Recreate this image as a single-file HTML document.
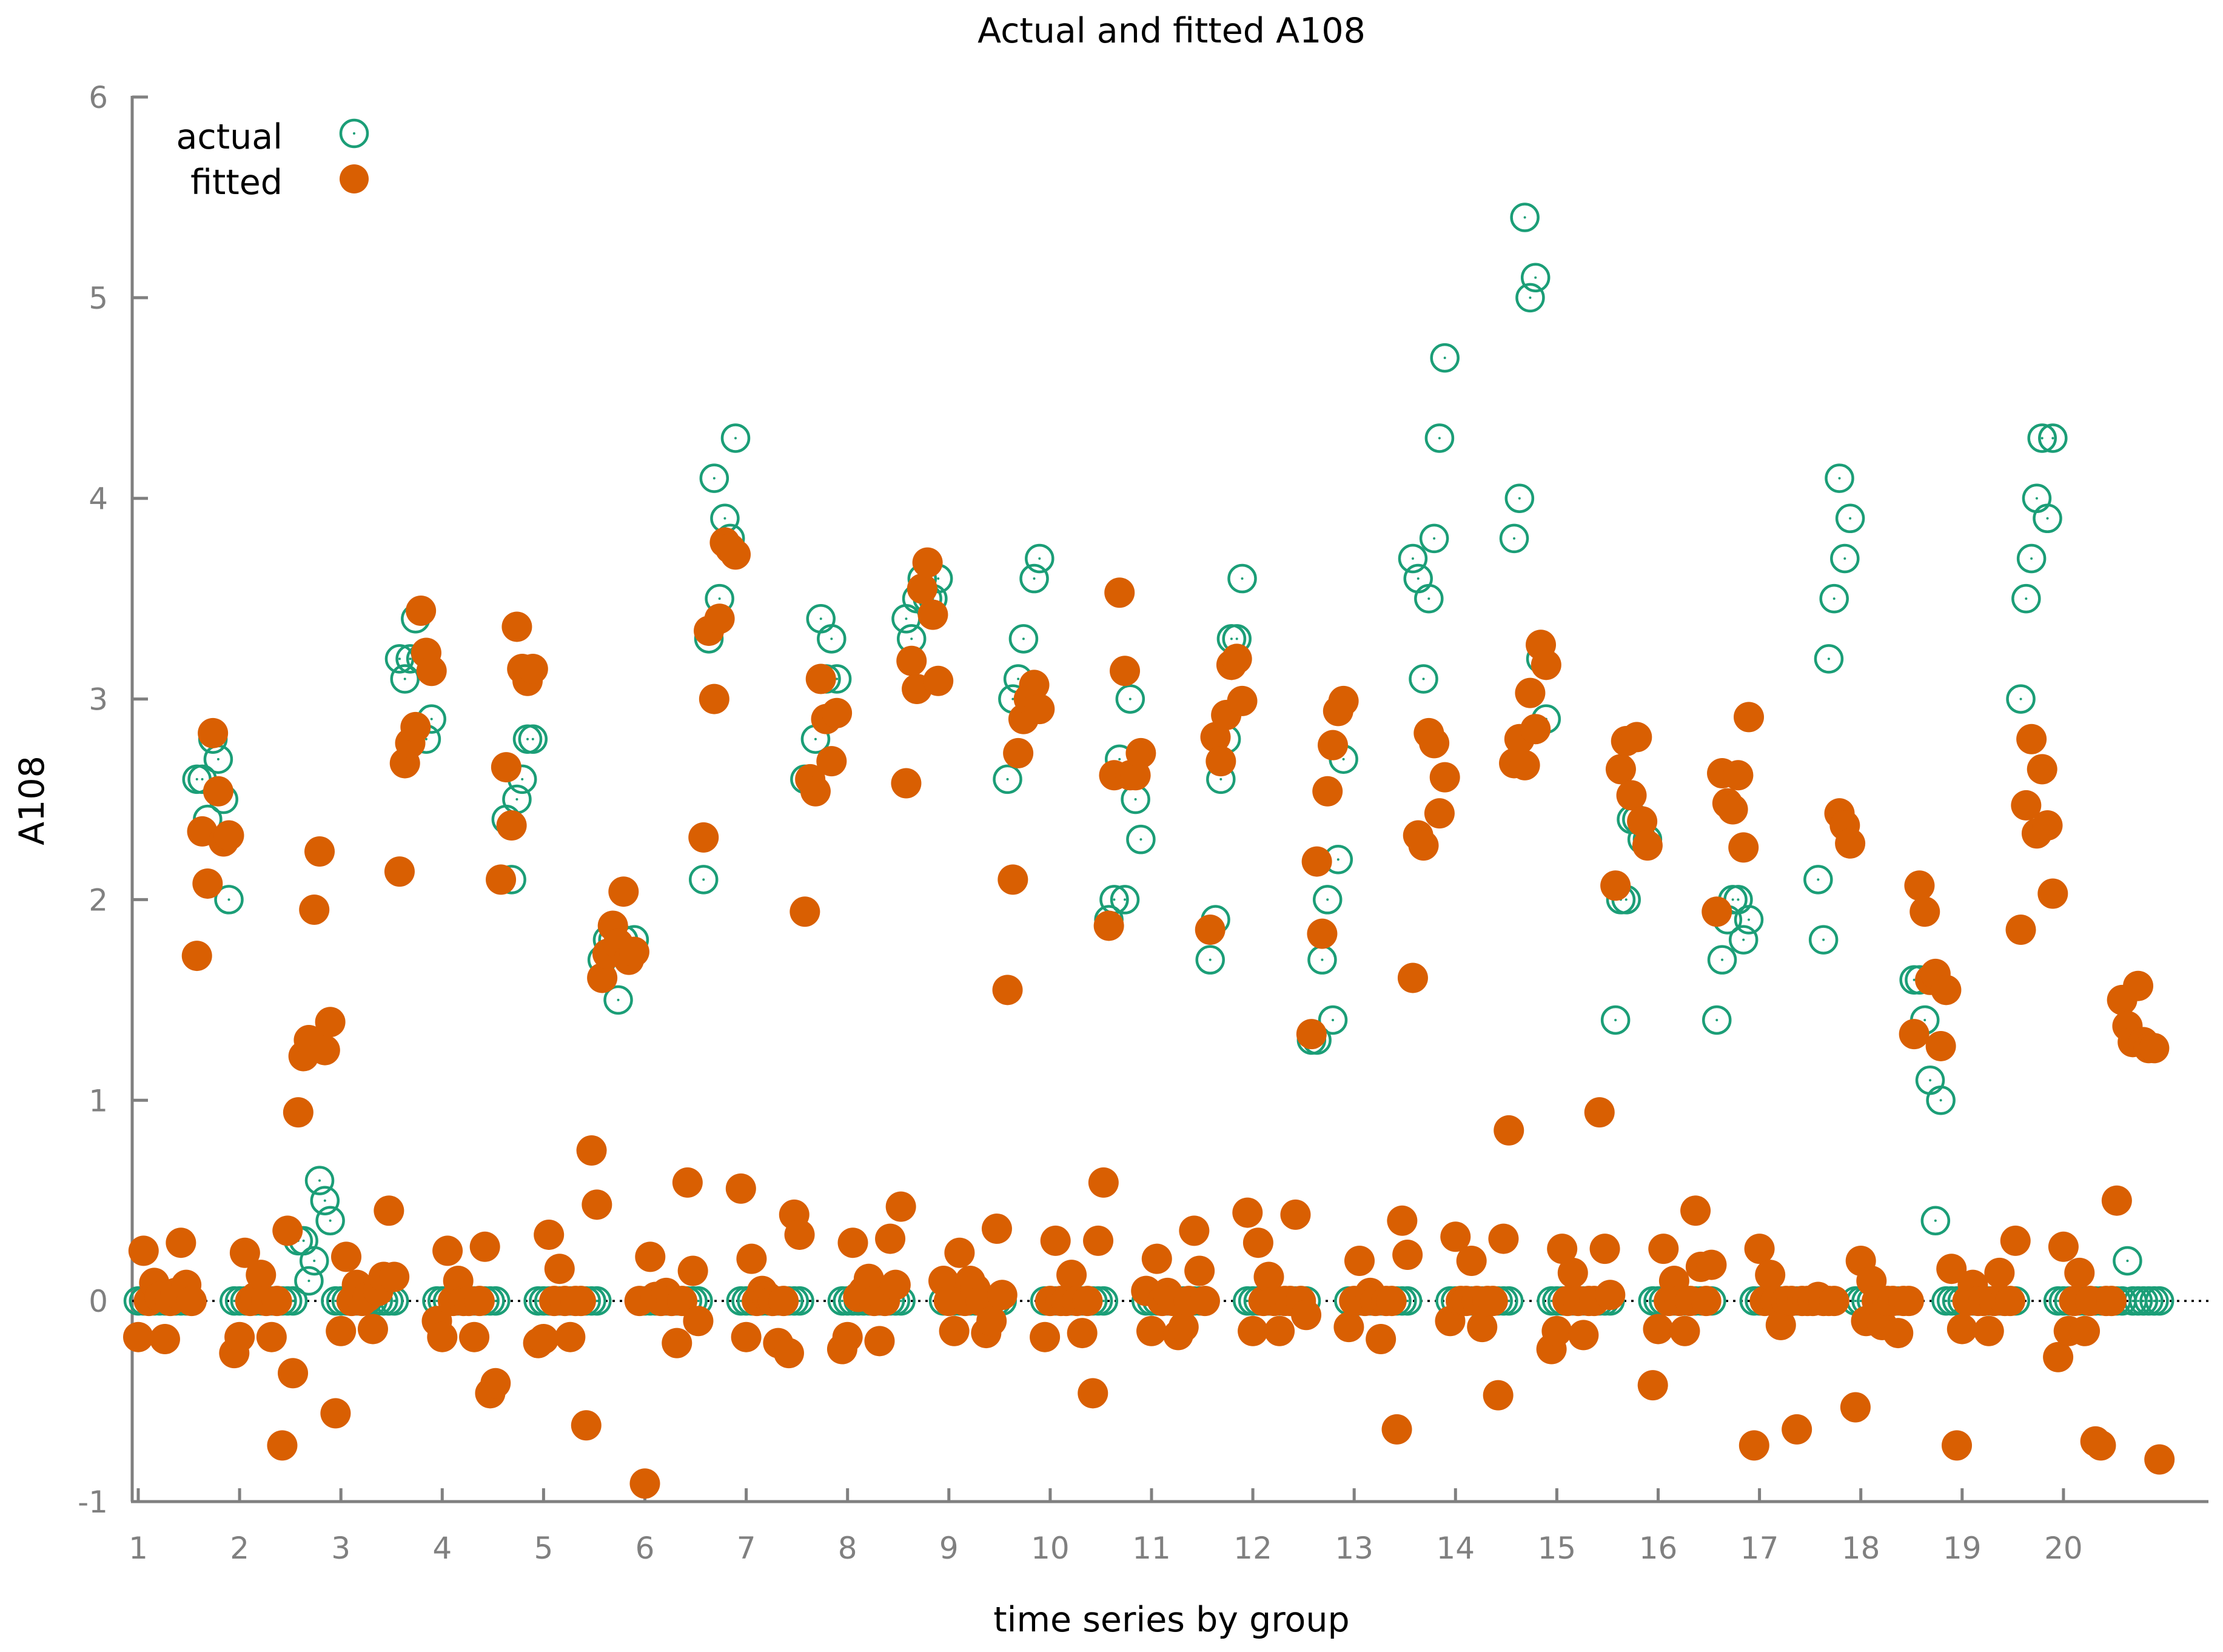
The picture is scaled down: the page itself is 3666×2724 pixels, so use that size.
<!DOCTYPE html>
<html><head><meta charset="utf-8"><style>
html,body{margin:0;padding:0;background:#fff}
svg{display:block}
text{font-family:"DejaVu Sans","Liberation Sans",sans-serif}
</style></head><body>
<svg id="chart" width="3666" height="2724" viewBox="0 0 3666 2724" xmlns="http://www.w3.org/2000/svg">
<rect width="3666" height="2724" fill="#fff"/>
<text x="1932" y="70" font-size="57" text-anchor="middle" fill="#000">Actual and fitted A108</text>
<text x="0" y="0" font-size="57" text-anchor="middle" fill="#000" transform="translate(72,1320) rotate(-90)">A108</text>
<text x="1932" y="2690" font-size="57" text-anchor="middle" fill="#000">time series by group</text>
<g id="grid"></g>
<g id="marks"></g>
<g id="legend">
<text x="466" y="245" font-size="57" text-anchor="end" fill="#000">actual</text>
<circle cx="584" cy="220" r="22" fill="none" stroke="#1b9e77" stroke-width="4.5"/>
<circle cx="584" cy="220" r="2" fill="#1b9e77"/>
<text x="466" y="320" font-size="57" text-anchor="end" fill="#000">fitted</text>
<circle cx="584" cy="295" r="24" fill="#d95f02"/>
</g>
</svg>
<script>
const xTicks=[1,2,3,4,5,6,7,8,9,10,11,12,13,14,15,16,17,18,19,20];
const yTicks=[-1,0,1,2,3,4,5,6];
const obsPerGroup=19;
const actual=[
0,0,0,0,0,0,0,0,0,0,0,2.6,2.6,2.4,2.8,2.7,2.5,2.0,0,
0,0,0,0,0,0,0,0,0,0,0,0.3,0.3,0.1,0.2,0.6,0.5,0.4,0,
0,0,0,0,0,0,0,0,0,0,0,3.2,3.1,3.2,3.4,3.2,2.8,2.9,0,
0,0,0,0,0,0,0,0,0,0,0,2.1,2.4,2.1,2.5,2.6,2.8,2.8,0,
0,0,0,0,0,0,0,0,0,0,0,1.7,1.8,1.8,1.5,1.8,1.7,1.8,0,
0,0,0,0,0,0,0,0,0,0,0,2.1,3.3,4.1,3.5,3.9,3.8,4.3,0,
0,0,0,0,0,0,0,0,0,0,0,2.6,2.6,2.8,3.4,3.1,3.3,3.1,0,
0,0,0,0,0,0,0,0,0,0,0,3.4,3.3,3.5,3.6,3.5,3.5,3.6,0,
0,0,0,0,0,0,0,0,0,0,0,2.6,3.0,3.1,3.3,3.0,3.6,3.7,0,
0,0,0,0,0,0,0,0,0,0,0,1.9,2.0,2.7,2.0,3.0,2.5,2.3,0,
0,0,0,0,0,0,0,0,0,0,0,1.7,1.9,2.6,2.8,3.3,3.3,3.6,0,
0,0,0,0,0,0,0,0,0,0,0,1.3,1.3,1.7,2.0,1.4,2.2,2.7,0,
0,0,0,0,0,0,0,0,0,0,0,3.7,3.6,3.1,3.5,3.8,4.3,4.7,0,
0,0,0,0,0,0,0,0,0,0,0,3.8,4.0,5.4,5.0,5.1,3.2,2.9,0,
0,0,0,0,0,0,0,0,0,0,0,1.4,2.0,2.0,2.4,2.4,2.3,2.3,0,
0,0,0,0,0,0,0,0,0,0,0,1.4,1.7,1.9,2.0,2.0,1.8,1.9,0,
0,0,0,0,0,0,0,0,0,0,0,2.1,1.8,3.2,3.5,4.1,3.7,3.9,0,
0,0,0,0,0,0,0,0,0,0,1.6,1.6,1.4,1.1,0.4,1.0,0,0,0,
0,0,0,0,0,0,0,0,0,0,0,3.0,3.5,3.7,4.0,4.3,3.9,4.3,0,
0,0,0,0,0,0,0,0,0,0,0,0,0.2,0,0,0,0,0,0
];
const fitted=[
-0.18,0.25,0.0,0.09,0.02,-0.19,0.0,0.04,0.29,0.08,0.0,1.72,2.34,2.08,2.83,2.54,2.29,2.32,-0.26,
-0.18,0.24,0.0,0.02,0.13,0.0,-0.18,0.0,-0.72,0.35,-0.36,0.94,1.22,1.3,1.95,2.24,1.25,1.39,-0.56,
-0.15,0.22,0.0,0.08,0.0,0.02,-0.14,0.05,0.12,0.45,0.12,2.14,2.68,2.78,2.86,3.44,3.23,3.14,-0.1,
-0.18,0.25,0.0,0.1,0.0,0.0,-0.18,0.0,0.27,-0.46,-0.41,2.1,2.66,2.37,3.36,3.15,3.09,3.15,-0.21,
-0.19,0.33,0.0,0.16,0.0,-0.18,0.0,0.0,-0.62,0.75,0.48,1.61,1.73,1.87,1.78,2.04,1.70,1.74,0.0,
-0.91,0.22,0.02,0.0,0.04,0.0,-0.21,0.0,0.59,0.15,-0.1,2.31,3.34,3.0,3.4,3.78,3.75,3.72,0.56,
-0.18,0.21,0.0,0.05,0.02,0.0,-0.21,0.0,-0.26,0.43,0.33,1.94,2.6,2.54,3.1,2.9,2.69,2.93,-0.24,
-0.18,0.29,0.02,0.05,0.11,0.0,-0.2,0.0,0.31,0.08,0.47,2.58,3.19,3.05,3.55,3.68,3.42,3.09,0.1,
0.0,-0.15,0.24,0.0,0.1,0.06,0.0,-0.16,-0.1,0.36,0.03,1.55,2.1,2.73,2.9,3.0,3.07,2.95,-0.18,
0.0,0.3,0.0,0.0,0.13,0.0,-0.16,0.0,-0.46,0.3,0.59,1.87,2.62,3.53,3.14,2.62,2.62,2.73,0.05,
-0.15,0.21,0.0,0.04,0.0,-0.17,-0.13,0.0,0.35,0.15,0.0,1.85,2.81,2.69,2.92,3.17,3.2,2.99,0.44,
-0.15,0.29,0.0,0.12,0.0,-0.15,0.0,0.0,0.43,0.0,-0.07,1.33,2.19,1.83,2.54,2.77,2.94,2.99,-0.13,
0.0,0.2,0.0,0.04,0.0,-0.19,0.0,0.0,-0.64,0.4,0.23,1.61,2.32,2.27,2.83,2.78,2.43,2.61,-0.1,
0.32,0.0,0.0,0.2,0.0,-0.13,0.0,0.0,-0.47,0.31,0.85,2.68,2.8,2.67,3.03,2.85,3.27,3.17,-0.24,
-0.15,0.26,0.0,0.14,0.0,-0.17,0.0,0.0,0.94,0.26,0.03,2.07,2.65,2.79,2.52,2.81,2.39,2.27,-0.42,
-0.14,0.26,0.0,0.1,0.0,-0.15,0.0,0.45,0.17,0.0,0.18,1.94,2.63,2.48,2.45,2.62,2.26,2.91,-0.72,
0.26,0.0,0.13,0.0,-0.12,0.0,0.0,-0.64,0.0,0.0,0.0,0.02,0.0,0.0,0.0,2.43,2.37,2.28,-0.53,
0.2,-0.1,0.1,0.0,-0.12,0.0,0.0,-0.16,0.0,0.0,1.33,2.07,1.94,1.6,1.63,1.27,1.55,0.16,-0.72,
-0.14,0.0,0.08,0.0,0.0,-0.15,0.0,0.14,0.0,0.0,0.3,1.85,2.47,2.8,2.33,2.65,2.37,2.03,-0.28,
0.27,-0.15,0.0,0.14,-0.15,0.0,-0.7,-0.72,0.0,0.0,0.5,1.5,1.37,1.29,1.57,1.29,1.26,1.26,-0.79
];
const NS="http://www.w3.org/2000/svg";
const PL=218,PR=3642,PT=160,PB=2476;
const X0=228,XU=167.1;
function xs(v){return X0+(v-1)*XU;}
function ys(v){return PB-(v+1)*(PB-PT)/7;}
function mk(tag,attrs,parent){const e=document.createElementNS(NS,tag);for(const k in attrs)e.setAttribute(k,attrs[k]);parent.appendChild(e);return e;}
const grid=document.getElementById('grid');
const marks=document.getElementById('marks');
let ax=mk('line',{x1:PL,y1:PT-2,x2:PL,y2:PB,stroke:'#808080','stroke-width':5},grid);


let bx=mk('line',{x1:PL-2,y1:PB,x2:PR,y2:PB,stroke:'#808080','stroke-width':5},grid);


yTicks.forEach(t=>{
  const y=ys(t);
  const l=mk('line',{x1:PL,y1:y,x2:PL+26,y2:y,stroke:'#808080','stroke-width':5},grid);
  
  
  const tx=mk('text',{x:178,y:y+18,'font-size':50,'text-anchor':'end',fill:'#808080'},grid);
  tx.textContent=String(t);
  
  
});
xTicks.forEach(t=>{
  const x=xs(t);
  const l=mk('line',{x1:x,y1:PB,x2:x,y2:PB-22,stroke:'#808080','stroke-width':5},grid);
  
  
  const tx=mk('text',{x:x,y:2570,'font-size':50,'text-anchor':'middle',fill:'#808080'},grid);
  tx.textContent=String(t);
  
  
});
const zl=mk('line',{x1:PL,y1:ys(0),x2:PR,y2:ys(0),stroke:'#000','stroke-width':3.5,'stroke-dasharray':'4 8'},marks);


actual.forEach((v,i)=>{
  const x=xs(1+i/obsPerGroup),y=ys(v);
  const c=mk('circle',{cx:x,cy:y,r:22,fill:'none',stroke:'#1b9e77','stroke-width':4.5},marks);
  
  
  mk('circle',{cx:x,cy:y,r:2,fill:'#1b9e77'},marks);
});
fitted.forEach((v,i)=>{
  const c=mk('circle',{cx:xs(1+i/obsPerGroup),cy:ys(v),r:25,fill:'#d95f02'},marks);
  
  
});
</script>
</body></html>
